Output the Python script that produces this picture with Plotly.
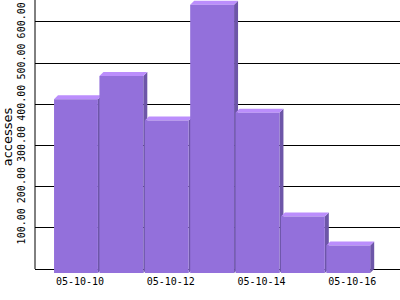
import plotly.graph_objects as go

dates = ["05-10-10", "05-10-11", "05-10-12", "05-10-13", "05-10-14", "05-10-15", "05-10-16"]
accesses = [422, 478, 370, 651, 389, 137, 67]
y_ticks = [100, 200, 300, 400, 500, 600]
y_tick_labels = ["100.00", "200.00", "300.00", "400.00", "500.00", "600.00"]
x_label_idx = [0, 2, 4, 6]

FRONT = "#9370DB"
TOP = "#BB8EFC"
SIDE = "#6D56A8"

w = 0.967    # front face width (category units)
dx = 0.088   # depth offset in x (category units)
dy = 9.7     # depth offset in y (value units)
y_top = 653

fig = go.Figure()
for i, v in enumerate(accesses):
    l, r = i - w / 2, i + w / 2
    # side face
    fig.add_trace(go.Scatter(x=[r, r + dx, r + dx, r, r], y=[-dy, 0, v, v - dy, -dy],
                             fill="toself", fillcolor=SIDE, mode="lines", line=dict(width=0),
                             hoverinfo="skip", showlegend=False))
    # top face
    fig.add_trace(go.Scatter(x=[l, l + dx, r + dx, r, l], y=[v - dy, v, v, v - dy, v - dy],
                             fill="toself", fillcolor=TOP, mode="lines", line=dict(width=0),
                             hoverinfo="skip", showlegend=False))
    # front face
    fig.add_trace(go.Scatter(x=[l, r, r, l, l], y=[-dy, -dy, v - dy, v - dy, -dy],
                             fill="toself", fillcolor=FRONT, mode="lines", line=dict(width=0),
                             hoverinfo="text", text=f"{dates[i]}: {v}", showlegend=False))

fig.add_shape(type="line", xref="paper", x0=0, x1=0, yref="y", y0=0, y1=y_top,
              line=dict(color="black", width=1))

fig.update_layout(
    width=400, height=300,
    margin=dict(l=35, r=0, t=0, b=26),
    plot_bgcolor="white", paper_bgcolor="white",
    font=dict(family="DejaVu Sans Mono", size=10, color="black"),
    xaxis=dict(range=[-0.903, 7.14], showgrid=False, zeroline=False, showline=False,
               tickmode="array", tickvals=[i + dx for i in x_label_idx],
               ticktext=[dates[i] for i in x_label_idx], ticks="", ticklen=0,
               tickfont=dict(family="DejaVu Sans Mono", size=10)),
    yaxis=dict(range=[-12.1, y_top], showgrid=True, gridcolor="black", gridwidth=1,
               zeroline=True, zerolinecolor="black", zerolinewidth=1, showline=False,
               tickmode="array", tickvals=y_ticks, ticktext=y_tick_labels, tickangle=-90,
               ticks="", ticklabelstandoff=7, tickfont=dict(family="DejaVu Sans Mono", size=10),
               title=dict(text="accesses", font=dict(family="DejaVu Sans", size=13), standoff=0)),
)

fig.write_html("out.html")
